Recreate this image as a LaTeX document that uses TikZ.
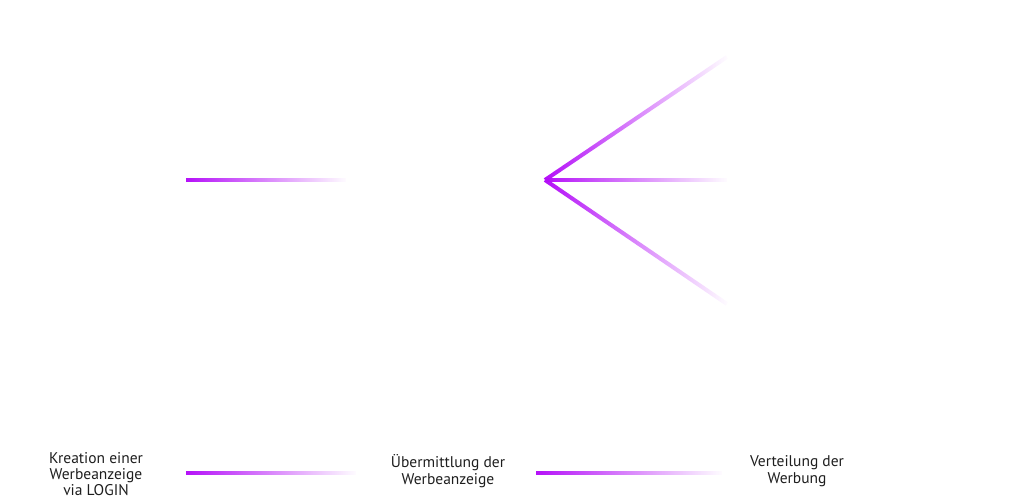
\documentclass[tikz,border=0pt]{standalone}
\usepackage{fontspec}
\setmainfont{PT Sans}
\usetikzlibrary{fadings}
\definecolor{werbelila}{RGB}{180,14,248}
\definecolor{textgrau}{RGB}{30,30,30}

\begin{document}
\begin{tikzpicture}[x=1pt,y=-1pt,
    strahl/.style={line width=4pt,werbelila,path fading=east},
    schritt/.style={align=center,font=\fontsize{15.5}{16.3}\selectfont,text=textgrau,inner sep=0pt}]
        \useasboundingbox (0,0) rectangle (1024,500);
        % obere Linien
        \coordinate (start) at (186,180);
        \coordinate (startende) at (346,180);
        \coordinate (spitze) at (545,180);
        \coordinate (oben) at (727,57);
        \coordinate (mitte) at (727,180);
        \coordinate (unten) at (727,304);
        \draw[strahl] (start)--(startende);
        \draw[strahl] (spitze)--(oben);
        \draw[strahl] (spitze)--(mitte);
        \draw[strahl] (spitze)--(unten);
        % untere Zeile
        \node[schritt] (kreation) at (96,474) {Kreation einer\\Werbeanzeige\\via LOGIN};
        \node[schritt] (uebermittlung) at (448,471) {Übermittlung der\\Werbeanzeige};
        \node[schritt] (verteilung) at (797,471) {Verteilung der\\Werbung};
        \coordinate (eins) at (186,473);
        \coordinate (einsende) at (356,473);
        \coordinate (zwei) at (536,473);
        \coordinate (zweiende) at (722,473);
        \draw[strahl] (eins)--(einsende);
        \draw[strahl] (zwei)--(zweiende);
      \end{tikzpicture}
\end{document}
